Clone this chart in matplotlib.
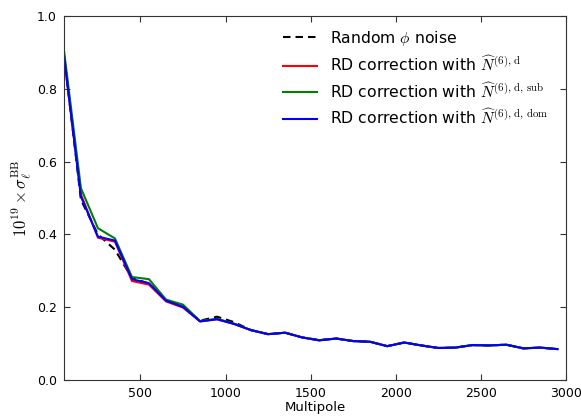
import matplotlib
matplotlib.use("Agg")
import matplotlib.pyplot as plt
import numpy as np

plt.rcParams['mathtext.fontset'] = 'cm'

# multipole bin centres
ell = [50, 150, 250, 350, 450, 550, 650, 750, 850, 950,
       1050, 1150, 1250, 1350, 1450, 1550, 1650, 1750, 1850, 1950,
       2050, 2150, 2250, 2350, 2450, 2550, 2650, 2750, 2850, 2950]

# 1e19 * sigma_ell^BB
random_phi = [0.895, 0.495, 0.400, 0.358, 0.280, 0.265, 0.218, 0.201, 0.163, 0.174,
              0.159, 0.137, 0.126, 0.130, 0.117, 0.110, 0.114, 0.107, 0.105, 0.093,
              0.103, 0.095, 0.088, 0.089, 0.096, 0.095, 0.097, 0.087, 0.089, 0.085]
rd_d = [0.890, 0.510, 0.391, 0.380, 0.272, 0.262, 0.216, 0.199, 0.161, 0.167,
        0.154, 0.137, 0.126, 0.130, 0.117, 0.109, 0.114, 0.107, 0.105, 0.093,
        0.103, 0.095, 0.088, 0.089, 0.096, 0.095, 0.097, 0.087, 0.089, 0.085]
rd_d_sub = [0.907, 0.527, 0.417, 0.389, 0.283, 0.277, 0.221, 0.207, 0.162, 0.168,
            0.155, 0.137, 0.126, 0.130, 0.117, 0.109, 0.114, 0.107, 0.105, 0.093,
            0.103, 0.095, 0.088, 0.089, 0.096, 0.095, 0.097, 0.087, 0.089, 0.085]
rd_d_dom = [0.893, 0.504, 0.394, 0.383, 0.277, 0.266, 0.218, 0.201, 0.161, 0.167,
            0.154, 0.137, 0.126, 0.130, 0.117, 0.109, 0.114, 0.107, 0.105, 0.093,
            0.103, 0.095, 0.088, 0.089, 0.096, 0.095, 0.097, 0.087, 0.089, 0.085]

fig = plt.figure(figsize=(5.81, 4.16), dpi=100)
ax = fig.add_axes([0.110, 0.0865, 0.864, 0.875])

ax.plot(ell, random_phi, color='black', lw=1.5, linestyle=(0, (3.6, 2.4)),
        label=r'Random $\phi$ noise')
ax.plot(ell, rd_d, color='red', lw=1.5,
        label=r'RD correction with $\widehat{N}^{(6),\,\mathrm{d}}$')
ax.plot(ell, rd_d_sub, color='green', lw=1.5,
        label=r'RD correction with $\widehat{N}^{(6),\,\mathrm{d,\,sub}}$')
ax.plot(ell, rd_d_dom, color='blue', lw=1.5,
        label=r'RD correction with $\widehat{N}^{(6),\,\mathrm{d,\,dom}}$')

ax.set_xlim(50, 3000)
ax.set_ylim(0.0, 1.0)
ax.set_xticks([500, 1000, 1500, 2000, 2500, 3000])
ax.set_yticks([0.0, 0.2, 0.4, 0.6, 0.8, 1.0])
ax.set_yticklabels(['0.0', '0.2', '0.4', '0.6', '0.8', '1.0'])
ax.tick_params(direction='in', top=True, right=True, length=4, labelsize=9,
               color='#333333', pad=5)
for s in ax.spines.values():
    s.set_color('#333333')

ax.set_xlabel('Multipole', fontsize=9.5, labelpad=1)
ax.set_ylabel(r'$10^{19}\times\sigma_\ell^{\mathrm{BB}}$', fontsize=12, labelpad=2)

ax.legend(loc='upper right', bbox_to_anchor=(1.002, 1.014), frameon=False, fontsize=11.25,
          handlelength=2.15, handletextpad=0.85, labelspacing=0.45, borderaxespad=0.75)

fig.savefig('out.png', dpi=100, facecolor='white')
